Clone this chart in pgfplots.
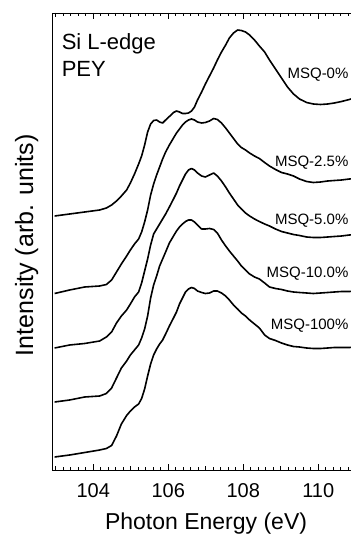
\documentclass[border=0pt]{standalone}
\usepackage{pgfplots}
\pgfplotsset{compat=1.18}
\usepackage{pgfplotstable}
\usepackage{fontspec}
\setmainfont{Liberation Sans}

\pgfplotstableread{
x      c0     c25    c50    c10    c100
102.97 254    176.5  122    68     13
103.37 256    180    125    70     15
103.77 258    183    126.5  73     17.5
104.17 260    184    129    74     20
104.35 262    185.5  133    76.5   21.5
104.49 265    190    138    82     24.5
104.62 269    198    147    92     34
104.75 274    206    154    102    46
104.89 280    214    160    109    54.5
104.99 287    220    166    115    59
105.10 296    226    173    120    63
105.21 306    231    178    125    66
105.29 314    238    187    132    71.5
105.37 325    248    199    141    81
105.45 338    260    211    154    94
105.53 346    275    225    172    106
105.61 349.5  286    236    185    115
105.69 350    295    241    194    121
105.77 348    303    246    204    126
105.85 347    311    251    211    130
105.93 350    318    256    218    136
106.03 353.5  325    263    227    144
106.14 357.5  332    271    234    152
106.22 359    337    277    239    158
106.30 358    341    284    243    166
106.38 356.5  345    290    246    172
106.46 356.5  348    296    248.5  178
106.54 357    350    300    250    181
106.62 359    351    301.5  250    182.5
106.70 363    350    300    248    181.5
106.78 370    348    297    245    179
106.89 378    347    294    241    177.5
106.99 386    347.5  293    241    176.5
107.10 394    349    295    241.5  177
107.21 402    351.5  297    240.5  179
107.31 410    350.5  294    237    179
107.42 418    347    289    230    177
107.53 425    342    283    224    174
107.63 432    337    277    219    170
107.74 437    331.5  271    214    165
107.85 440    326    265    209    161
107.95 439.5  322.5  261    204    157
108.06 438    320    257    200    154
108.17 435    317    254    196    150
108.30 430    314    251    193    146
108.43 424    311.5  248.5  191    142
108.57 418    307.5  246    187    135
108.70 410    304    244    183    131.5
108.86 401    300.5  241    181.5  129.5
109.02 392    297.5  238.5  180.5  127
109.18 383    296    237    179    125
109.34 376    294    235.5  178    123.5
109.50 371    291    234.5  177.5  123
109.69 367.5  288.5  233    177    122
109.87 366    287.5  232.5  176.5  121.5
110.06 365.5  288    232.5  177    121.5
110.25 366    289    233    177.5  122
110.43 367    289.5  233.5  178    122.5
110.62 368.5  290    234    178.5  122.5
110.83 370.5  291    235    178.5  122.5
111.02 373    291.5  235.5  179    123
111.21 375    292    236    179    123
}\spectra

\begin{document}
\begin{tikzpicture}
\begin{axis}[
  scale only axis, width=311.25pt, height=457pt,
  xmin=102.9, xmax=111.2, ymin=0, ymax=457,
  clip=false,
  axis line style={line width=0.9pt},
  xtick={104,106,108,110},
  minor xtick={103.0,103.2,...,111.2},
  extra x ticks={103,105,107,109,111},
  extra x tick labels={},
  extra x tick style={major tick length=4.5pt},
  ytick=\empty,
  major tick length=6pt, minor tick length=3pt,
  tick style={line width=0.7pt, black},
  /pgf/number format/assume math mode=true,
  xticklabel style={font=\fontsize{20}{24}\selectfont, anchor=base, yshift=-27pt},
  xlabel={Photon Energy (eV)},
  xlabel style={font=\fontsize{23}{28}\selectfont, at={(axis description cs:0.495,-0.131)}, anchor=base},
  ylabel={Intensity (arb. units)},
  ylabel style={font=\fontsize{25}{30}\selectfont, at={(axis description cs:-0.061,0.492)}, anchor=base},
]
\coordinate (ll) at (rel axis cs:0,0);
\addplot[black, line width=1.6pt, line join=round] table[x=x, y=c0] {\spectra};
\addplot[black, line width=1.6pt, line join=round] table[x=x, y=c25] {\spectra};
\addplot[black, line width=1.6pt, line join=round] table[x=x, y=c50] {\spectra};
\addplot[black, line width=1.6pt, line join=round] table[x=x, y=c10] {\spectra};
\addplot[black, line width=1.6pt, line join=round] table[x=x, y=c100] {\spectra};
\node[anchor=base west, inner sep=0pt, font=\fontsize{22}{26}\selectfont] at (axis cs:103.155,420) {Si L-edge};
\node[anchor=base west, inner sep=0pt, font=\fontsize{22}{26}\selectfont] at (axis cs:103.155,393) {PEY};
\node[anchor=base east, inner sep=0pt, font=\fontsize{15}{18}\selectfont] at (axis cs:110.81,391) {MSQ-0\%};
\node[anchor=base east, inner sep=0pt, font=\fontsize{15}{18}\selectfont] at (axis cs:110.81,304) {MSQ-2.5\%};
\node[anchor=base east, inner sep=0pt, font=\fontsize{15}{18}\selectfont] at (axis cs:110.81,246) {MSQ-5.0\%};
\node[anchor=base east, inner sep=0pt, font=\fontsize{15}{18}\selectfont] at (axis cs:110.81,193) {MSQ-10.0\%};
\node[anchor=base east, inner sep=0pt, font=\fontsize{15}{18}\selectfont] at (axis cs:110.81,141) {MSQ-100\%};
\end{axis}
\pgfresetboundingbox
\path[use as bounding box] ([shift={(-52pt,-69pt)}]ll) rectangle ([shift={(299pt,470pt)}]ll);
\end{tikzpicture}
\end{document}
